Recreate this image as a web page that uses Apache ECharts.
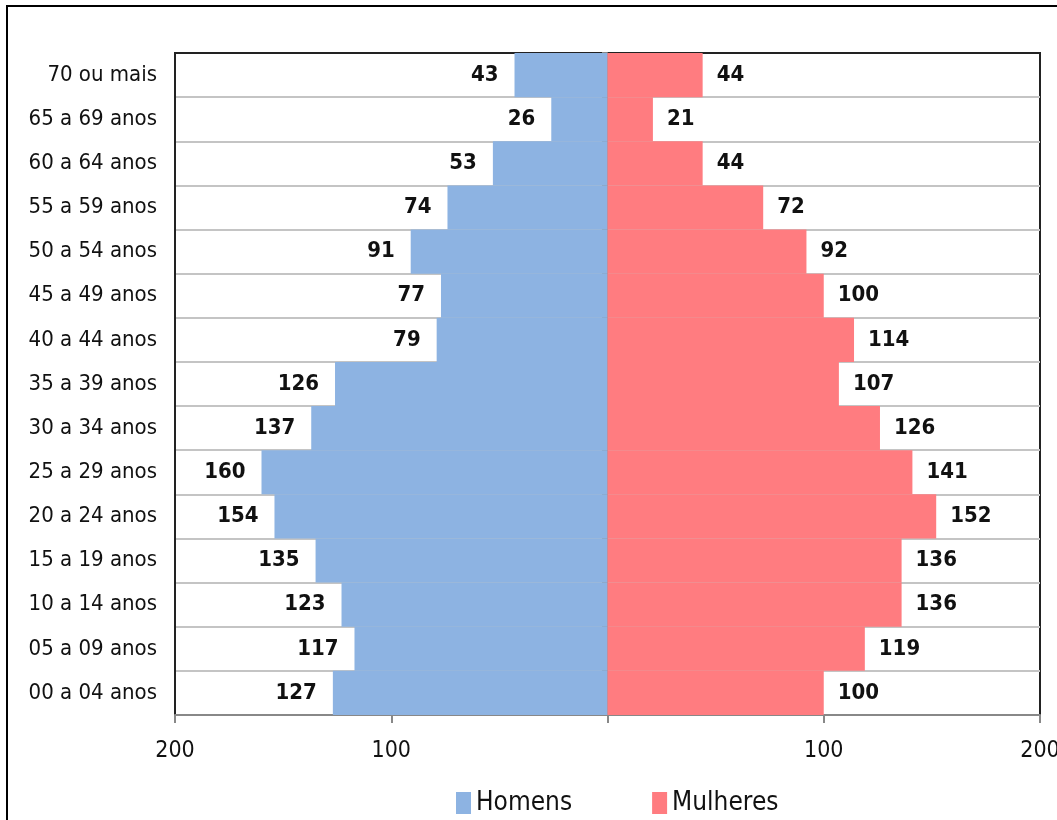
<!DOCTYPE html>
<html><head><meta charset="utf-8">
<script src="https://cdn.jsdelivr.net/npm/echarts@6/dist/echarts.min.js"></script>
<style>html,body{margin:0;padding:0;background:#fff;}#c{width:1057px;height:820px;}</style>
</head><body><div id="c"></div>
<script>
const categories = ['70 ou mais','65 a 69 anos','60 a 64 anos','55 a 59 anos','50 a 54 anos','45 a 49 anos','40 a 44 anos','35 a 39 anos','30 a 34 anos','25 a 29 anos','20 a 24 anos','15 a 19 anos','10 a 14 anos','05 a 09 anos','00 a 04 anos'];
const homens = [43,26,53,74,91,77,79,126,137,160,154,135,123,117,127];
const mulheres = [44,21,44,72,92,100,114,107,126,141,152,136,136,119,100];
const xTicks = [-200,-100,0,100,200];

const FONT = "'Liberation Sans Narrow','Arial Narrow','DejaVu Sans Condensed',sans-serif";
const chart = echarts.init(document.getElementById('c'), null, {renderer:'canvas'});
chart.setOption({
  animation:false,
  backgroundColor:'#fff',
  textStyle:{fontFamily:FONT},
  graphic:[{type:'rect',shape:{x:7,y:6,width:1100,height:900},style:{fill:'none',stroke:'#000',lineWidth:2},silent:true}],
  grid:{left:175,right:17,top:53,bottom:105,outerBoundsMode:'none',containLabel:false,
    show:true,borderColor:'#222',borderWidth:2,backgroundColor:'#fff'},
  legend:{top:785,left:451,itemWidth:15,itemHeight:22,itemGap:80,icon:'rect',
    textStyle:{fontFamily:FONT,fontSize:26,color:'#111'},
    data:['Homens','Mulheres']},
  xAxis:{type:'value',min:xTicks[0],max:xTicks[xTicks.length-1],interval:100,
    axisLine:{show:true,lineStyle:{color:'#888',width:2}},
    axisTick:{show:true,length:8,lineStyle:{color:'#888',width:2}},
    splitLine:{show:false},
    axisLabel:{fontFamily:FONT,fontSize:23,color:'#111',margin:25,
      formatter:v=> v===0 ? '' : String(Math.abs(v))}},
  yAxis:[{type:'category',data:categories,inverse:true,position:'left',
    axisLine:{show:true,onZero:false,lineStyle:{color:'#222',width:2}},
    axisTick:{show:false},
    splitLine:{show:true,showMinLine:false,showMaxLine:false,lineStyle:{color:'#c4c4c4',width:2}},
    axisLabel:{fontFamily:FONT,fontSize:22,color:'#111',margin:18}},
   {type:'category',data:categories,inverse:true,position:'left',offset:-432,
    axisLine:{show:true,onZero:false,lineStyle:{color:'#888',width:2}},
    axisTick:{show:true,length:5,lineStyle:{color:'#888',width:2}},
    axisLabel:{show:false},splitLine:{show:false}}],
  series:[
    {name:'Homens',type:'bar',yAxisIndex:0,barCategoryGap:0,barGap:'-100%',
     itemStyle:{color:'#8db3e2'},
     data:homens.map(v=>-v),
     label:{show:true,position:'left',distance:16,fontFamily:FONT,fontSize:22,fontWeight:'bold',color:'#111',
       formatter:p=>String(Math.abs(p.value))}},
    {name:'Mulheres',type:'bar',yAxisIndex:0,barCategoryGap:0,barGap:'-100%',
     itemStyle:{color:'#ff7c80'},
     data:mulheres,
     label:{show:true,position:'right',distance:14,fontFamily:FONT,fontSize:22,fontWeight:'bold',color:'#111'}}
  ]
});
</script></body></html>
